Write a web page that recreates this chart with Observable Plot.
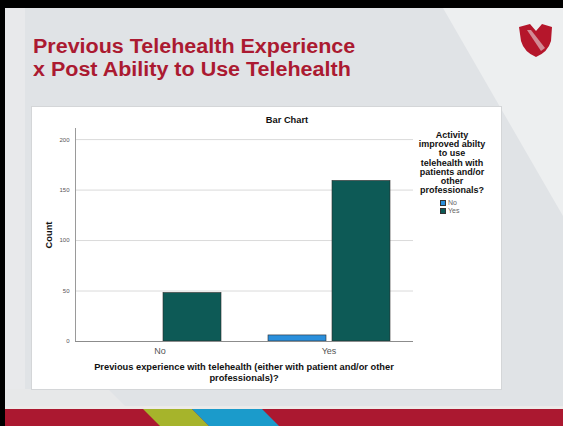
<!DOCTYPE html>
<html>
<head>
<meta charset="utf-8">
<script src="https://cdn.jsdelivr.net/npm/d3@7"></script>
<script src="https://cdn.jsdelivr.net/npm/@observablehq/plot@0.6"></script>
<style>
  html, body { margin: 0; padding: 0; background: #e1e4e7; }
  #slide { position: relative; width: 563px; height: 426px; overflow: hidden; font-family: "Liberation Sans", Arial, sans-serif; }
  #deco { position: absolute; left: 0; top: 0; }
  .title { position: absolute; left: 33px; top: 35px; font-size: 20px; line-height: 23px; font-weight: bold; color: #ab1a31; white-space: nowrap; transform: scaleX(1.075); transform-origin: left top; }
  #panel { position: absolute; left: 32px; top: 107px; width: 469px; height: 282px; background: #fff; box-shadow: 0 0 0 1px #d4d6d8; }
  #panel svg.chart { position: absolute; left: 0; top: 0; }
  .lbl { position: absolute; font-weight: bold; font-size: 9.3px; color: #111; text-align: center; white-space: nowrap; }
  #legend-items { position: absolute; left: 408px; top: 92px; }
  .item { display: flex; align-items: center; height: 7.7px; font-size: 7px; color: #666; }
  .sw { width: 6px; height: 6px; margin-right: 2px; box-sizing: border-box; border: 0.5px solid #333; }
</style>
</head>
<body>
<div id="slide">
  <svg id="deco" width="563" height="426">
    <rect width="563" height="426" fill="#e0e3e6"/>
    <rect x="5" y="8" width="20" height="418" fill="#e8e9eb"/>
    <polygon points="443,8 563,8 563,216" fill="#edeff0"/>
    <polygon points="5,389 108,389 128,409 5,409" fill="#e7e8e9"/>
    <rect x="0" y="406" width="563" height="3" fill="#eceae9"/>
    <rect x="0" y="409" width="563" height="17" fill="#ab1830"/>
    <polygon points="143,409 192,409 209,426 160,426" fill="#a6b42b"/>
    <polygon points="192,409 262,409 279,426 209,426" fill="#1b9bcb"/>
    <rect x="0" y="0" width="563" height="8" fill="#000"/>
    <rect x="0" y="0" width="5" height="426" fill="#000"/>
    <!-- shield logo -->
    <path d="M519,27 L530,24 L536,31 L542,24 L552,27 L551,41 Q548,52 536,57 Q524,52 521,41 Z" fill="#b5162b"/>
    <path d="M527,30 L531,30 L545,48 L541,51 Z" fill="#e9ebed" opacity="0.55"/>
  </svg>
  <div class="title">Previous Telehealth Experience<br>x Post Ability to Use Telehealth</div>
  <div id="panel">
    <div class="lbl" style="left:205px; top:8px; width:100px;">Bar Chart</div>
    <div class="lbl" style="left:2px; width:30px; transform: rotate(-90deg); transform-origin: 15px 5px; top:122.5px;">Count</div>
    <div class="lbl" style="left:43px; top:255px; width:338px; line-height:11px;">Previous experience with telehealth (either with patient and/or other<br>professionals)?</div>
    <div class="lbl" style="left:380px; top:24px; width:80px; line-height:9.2px; font-size:9px;">Activity<br>improved abilty<br>to use<br>telehealth with<br>patients and/or<br>other<br>professionals?</div>
    <div id="legend-items"></div>
  </div>
</div>
<script>
// Counts of respondents by previous telehealth experience (groups)
// and whether the activity improved their ability to use telehealth (bars)
const previousExperience = ["No", "No", "Yes", "Yes"];
const improvedAbility = ["No", "Yes", "No", "Yes"];
const counts = [0, 48, 6, 159];
const categories = ["No", "Yes"];
const yTicks = [0, 50, 100, 150, 200];
const barColors = ["#2a8fdc", "#0d5a56"];

const rows = counts.map((count, i) => ({
  previous: previousExperience[i],
  improved: improvedAbility[i],
  count
}));

const chart = Plot.plot({
  width: 469,
  height: 282,
  marginLeft: 43,
  marginRight: 88,
  marginTop: 21,
  marginBottom: 48,
  style: { background: "transparent", fontFamily: "'Liberation Sans', Arial, sans-serif", overflow: "visible" },
  fx: { domain: categories, padding: 0, label: null },
  x: { domain: categories, axis: null, paddingInner: 0.1, paddingOuter: 0.36 },
  y: { domain: [0, 211], label: null },
  color: { domain: categories, range: barColors },
  marks: [
    Plot.ruleY(yTicks.filter(t => t > 0), { stroke: "#dadada", strokeWidth: 1 }),
    Plot.barY(rows, {
      filter: d => d.count > 0,
      fx: "previous",
      x: "improved",
      y: "count",
      fill: "improved",
      stroke: "#2b2b2b",
      strokeWidth: 0.6
    }),
    Plot.frame({ anchor: "left", stroke: "#9a9a9a", facetAnchor: "left" }),
    Plot.ruleY([0], { stroke: "#8c8c8c" }),
    Plot.axisY({ ticks: yTicks, tickSize: 0, tickPadding: 6, fontSize: 6, color: "#555", label: null }),
    Plot.axisFx({ anchor: "bottom", tickSize: 0, tickPadding: 6, fontSize: 9, color: "#555", label: null })
  ]
});
chart.classList.add("chart");
document.getElementById("panel").prepend(chart);

// Legend swatches built from the same color scale
const colorScale = chart.scale("color");
const legend = document.getElementById("legend-items");
colorScale.domain.forEach((name, i) => {
  const item = document.createElement("div");
  item.className = "item";
  const sw = document.createElement("span");
  sw.className = "sw";
  sw.style.background = colorScale.range[i];
  item.appendChild(sw);
  item.appendChild(document.createTextNode(name));
  legend.appendChild(item);
});
</script>
</body>
</html>
